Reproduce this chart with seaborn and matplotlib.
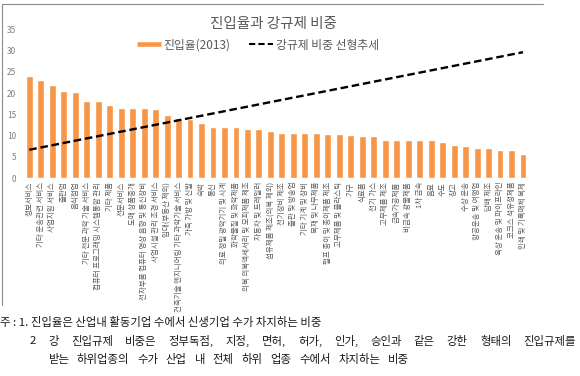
import matplotlib
matplotlib.use("Agg")
import matplotlib.pyplot as plt
import seaborn as sns
import pandas as pd
from matplotlib.lines import Line2D

categories = [
    "정보서비스", "기타 운송관련 서비스", "사업지원 서비스", "출판업", "음식점업",
    "기타 전문 과학 기술 서비스", "컴퓨터 프로그래밍 시스템통합 관리", "기타 제품",
    "전문서비스", "도매 상품중개", "전자부품 컴퓨터 영상 음향 및 통신장비",
    "사업시설 관리 조경 서비스", "임대(부동산 제외)", "건축기술 엔지니어링 기타 과학기술 서비스",
    "가죽 가방 및 신발", "숙박", "통신", "의료 정밀 광학기기 및 시계", "화학물질 및 화학제품",
    "의복 의복액세서리 및 모피제품 제조", "자동차 및 트레일러", "섬유제품 제조(의복 제외)",
    "전기장비 제조", "출판 및 방송업", "기타 기계 및 장비", "목재 및 나무제품",
    "펄프 종이 및 종이제품 제조", "고무제품 및 플라스틱", "가구", "식료품", "전기 가스",
    "고무제품 제조", "금속가공제품", "비금속 광물제품", "1차 금속", "음료", "수도",
    "창고", "수상 운송", "항공운송 및 여행업", "담배 제조", "육상 운송 및 파이프라인",
    "코크스 석유정제품", "인쇄 및 기록매체 복제",
]
entry_rate = [
    24.0, 23.1, 21.8, 20.4, 20.2, 18.1, 18.1, 17.1, 16.4, 16.4, 16.4, 16.3,
    14.9, 14.2, 14.0, 12.9, 12.1, 12.1, 11.95, 11.6, 11.6, 11.2, 10.7, 10.6,
    10.6, 10.6, 10.4, 10.4, 10.2, 10.0, 9.85, 9.1, 9.0, 9.0, 8.9, 8.9, 8.5,
    7.7, 7.6, 7.2, 7.1, 6.7, 6.7, 5.6,
]
trend_values = [6.7, 29.6]  # linear trend at first and last category

y_ticks = [0, 5, 10, 15, 20, 25, 30, 35]
title_text = "진입율과 강규제 비중"
legend_bar = "진입율(2013)"
legend_line = "강규제 비중 선형추세"
notes = [
    "주 : 1. 진입율은 산업내 활동기업 수에서 신생기업 수가 차지하는 비중",
    "2 강 진입규제 비중은 정부독점, 지정, 면허, 허가, 인가, 승인과 같은 강한 형태의 진입규제를",
    "받는 하위업종의 수가 산업 내 전체 하위 업종 수에서 차지하는 비중",
]

sns.set_theme(style="white")
plt.rcParams["font.family"] = ["Noto Sans CJK KR", "DejaVu Sans"]

W, H = 580, 376
fig = plt.figure(figsize=(W / 100, H / 100), dpi=100)
ax = fig.add_axes([22.4 / W, 1 - 178.3 / H, 507.5 / W, 149.1 / H])

df = pd.DataFrame({"cat": categories, "val": entry_rate})
bar_color = "#F79646"
sns.barplot(data=df, x="cat", y="val", color=bar_color, saturation=1,
            width=0.6, ax=ax)

n = len(categories)
ax.plot([0, n - 1], trend_values, color="black", lw=1.7,
        linestyle=(0, (3.2, 1.6)))

ax.set_xlim(-0.6, n - 0.4)
ax.set_ylim(0, 35)
ax.set_yticks(y_ticks)
ax.set_yticklabels([str(t) for t in y_ticks], fontsize=6, color="#808080")
ax.set_xlabel("")
ax.set_ylabel("")
ax.set_xticks(range(n))
ax.set_xticklabels(categories, rotation=90, fontsize=5.4, color="#595959")
ax.tick_params(axis="x", length=0, pad=2.5)
ax.tick_params(axis="y", length=0, pad=4.5)
for s in ax.spines.values():
    s.set_visible(False)
ax.patch.set_alpha(0)

# outer frame (top and left)
fig.add_artist(Line2D([2 / W, 543 / W], [1 - 4 / H, 1 - 4 / H],
                      transform=fig.transFigure, color="#8c8c8c", lw=0.8))
fig.add_artist(Line2D([2 / W, 2 / W], [1 - 4 / H, 1 - 305 / H],
                      transform=fig.transFigure, color="#8c8c8c", lw=0.8))

fig.text(273 / W, 1 - 24 / H, title_text, ha="center", va="center",
         fontsize=10.5, color="#595959")

handles = [Line2D([], [], color=bar_color, lw=3.3, solid_capstyle="butt"),
           Line2D([], [], color="black", lw=1.5, linestyle=(0, (3, 1.5)))]
fig.legend(handles, [legend_bar, legend_line], loc="center",
           bbox_to_anchor=(258 / W, 1 - 45 / H), ncol=2, frameon=False,
           fontsize=8.5, handlelength=2.0, handletextpad=0.25,
           columnspacing=1.6, borderpad=0, labelcolor="#595959")

# footnotes
fs = 8.2
fig.text(0 / W, 1 - 322 / H, notes[0], ha="left", va="center",
         fontsize=fs, color="#1a1a1a")


def justify(line, y, x0, x1):
    words = line.split(" ")
    texts = [fig.text(0, 1 - y / H, w, ha="left", va="center", fontsize=fs,
                      color="#1a1a1a") for w in words]
    fig.canvas.draw()
    r = fig.canvas.get_renderer()
    widths = [t.get_window_extent(r).width for t in texts]
    gap = (x1 - x0 - sum(widths)) / (len(words) - 1)
    x = x0
    for t, w in zip(texts, widths):
        t.set_x(x / W)
        x += w + gap


justify(notes[1], 341, 30, 576)
justify(notes[2], 359, 48, 409)

fig.savefig("out.png", dpi=100)
